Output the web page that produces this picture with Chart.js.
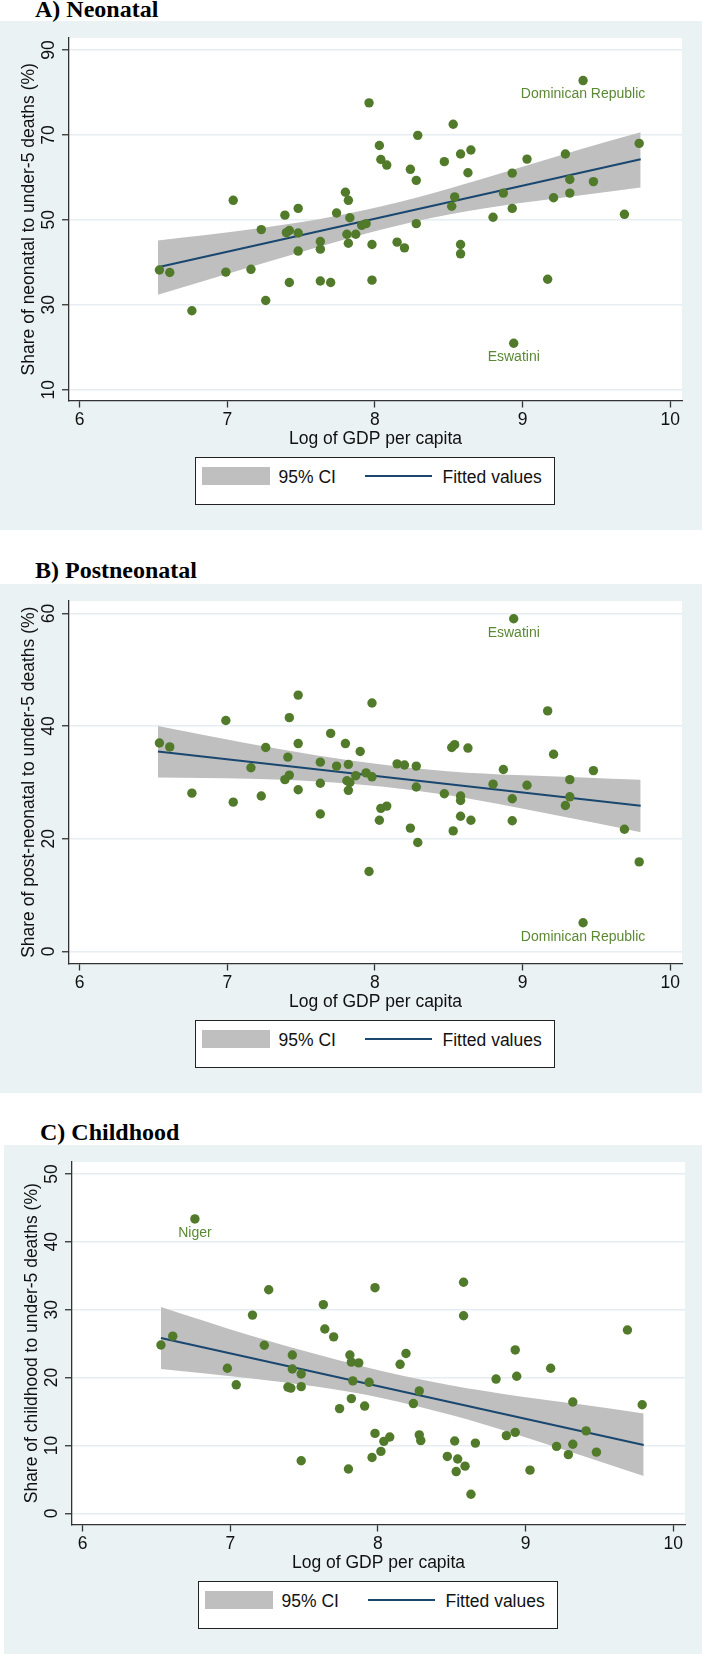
<!DOCTYPE html>
<html>
<head>
<meta charset="utf-8">
<script src="https://cdn.jsdelivr.net/npm/chart.js@4.4.1/dist/chart.umd.min.js"></script>
<style>
  html, body { margin: 0; padding: 0; background: #fff; }
  body { position: relative; width: 702px; height: 1654px; overflow: hidden; font-family: 'Liberation Sans', Arial, sans-serif; color: #111; }
  .bg { position: absolute; background: #eaf2f3; }
  .title { position: absolute; font-family: 'Liberation Serif', 'Times New Roman', serif; font-weight: bold; font-size: 24px; line-height: 24px; white-space: pre; color: #000; }
  canvas { position: absolute; }
  .legend { position: absolute; width: 358px; height: 46px; border: 1.5px solid #222; background: #fff; }
  .legend .swatch { position: absolute; left: 5.5px; top: 9px; width: 68px; height: 18px; background: #bfbfbf; }
  .legend .line { position: absolute; left: 168.5px; top: 17px; width: 67px; height: 2px; background: #1a476f; }
  .legend span { position: absolute; top: 10px; font-size: 17.5px; line-height: 18px; white-space: pre; }
</style>
</head>
<body>
<script>
// shared x axis: log of GDP per capita
const xTicks = [6, 7, 8, 9, 10];

// A) Neonatal
const neoX = [9.41, 7.96, 8.53, 8.29, 8.03, 9.79, 8.65, 8.58, 9.29, 8.04, 8.08, 9.03, 8.47, 8.24, 8.63, 8.93,
  8.28, 9.32, 9.48, 7.04, 7.80, 7.82, 8.54, 8.87, 9.32, 9.21, 7.48, 8.52, 8.93, 7.39, 7.74, 7.83, 8.80, 9.69,
  7.94, 7.91, 8.28, 7.23, 7.42, 7.40, 7.48, 7.81, 7.87, 7.63, 7.63, 7.82, 7.98, 8.15, 8.20, 7.48, 8.58, 8.58,
  6.54, 6.61, 6.99, 7.16, 7.42, 7.63, 7.70, 7.98, 9.17, 7.26, 6.76, 8.94];
const neoY = [82.8, 77.55, 72.5, 69.9, 67.5, 68.0, 66.45, 65.5, 65.5, 64.2, 62.9, 64.3, 63.7, 61.9, 61.1, 61.0,
  59.3, 59.5, 59.0, 54.6, 56.5, 54.6, 55.4, 56.3, 56.3, 55.2, 52.7, 53.2, 52.7, 51.1, 51.6, 50.5, 50.6, 51.3,
  49.1, 48.7, 49.1, 47.7, 47.5, 47.0, 46.9, 46.6, 46.6, 44.9, 43.1, 44.5, 44.2, 44.75, 43.4, 42.65, 44.2, 42.0,
  38.2, 37.6, 37.7, 38.35, 35.25, 35.6, 35.25, 35.8, 36.0, 31.0, 28.6, 20.95];
const neoBandX = [6.53, 7.15, 7.61, 8.06, 8.51, 8.96, 9.41, 9.8];
const neoBandHi = [45.13, 47.72, 50.07, 53.29, 57.44, 62.07, 66.78, 70.62];
const neoBandLo = [32.35, 38.85, 43.56, 47.87, 51.33, 53.84, 55.87, 57.6];
const neoFitX = [6.53, 9.8];
const neoFitY = [38.85, 64.27];
const neoYTicks = [10, 30, 50, 70, 90];
const neoNames = ['Dominican Republic', 'Eswatini'];
const neoNameIdx = [0, 63];

// B) Postneonatal
const postX = [8.94, 7.48, 7.98, 7.42, 6.99, 9.17, 7.70, 6.54, 6.61, 7.48, 7.80, 7.26, 8.52, 8.54, 8.63, 9.21,
  7.90, 7.41, 7.63, 9.48, 8.87, 7.16, 7.74, 7.82, 8.15, 8.20, 8.28, 7.94, 7.87, 7.98, 7.42, 7.39, 7.81, 7.83,
  9.32, 7.63, 8.80, 9.03, 8.28, 7.48, 7.82, 6.76, 8.47, 7.23, 8.58, 8.58, 8.93, 9.32, 9.29, 7.04, 8.08, 8.04,
  7.63, 8.58, 8.03, 8.65, 8.93, 8.24, 8.53, 9.69, 8.29, 7.96, 9.79, 9.41];
const postY = [59.05, 45.5, 44.1, 41.5, 41.0, 42.7, 38.7, 37.0, 36.3, 36.9, 36.9, 36.2, 36.2, 36.7, 36.1, 35.0,
  35.5, 34.5, 33.6, 32.1, 32.3, 32.6, 32.9, 33.2, 33.3, 33.1, 32.9, 31.7, 31.2, 31.0, 31.3, 30.5, 30.3, 30.0,
  30.5, 29.85, 29.7, 29.5, 29.2, 28.7, 28.6, 28.1, 28.0, 27.6, 27.6, 26.8, 27.1, 27.45, 25.9, 26.5, 25.8, 25.4,
  24.4, 24.0, 23.3, 23.3, 23.2, 21.9, 21.4, 21.7, 19.35, 14.2, 15.9, 5.1];
const postBandX = [6.53, 7.15, 7.61, 8.06, 8.51, 8.96, 9.41, 9.8];
const postBandHi = [40.01, 36.87, 34.8, 33.14, 31.95, 31.3, 30.89, 30.47];
const postBandLo = [30.89, 30.65, 30.18, 29.23, 27.69, 25.56, 23.25, 21.18];
const postFitX = [6.53, 9.8];
const postFitY = [35.51, 25.86];
const postYTicks = [0, 20, 40, 60];
const postNames = ['Eswatini', 'Dominican Republic'];
const postNameIdx = [0, 63];

// C) Childhood
const childX = [6.76, 8.58, 7.98, 7.26, 7.63, 7.15, 8.58, 9.69, 7.64, 7.70, 6.61, 6.53, 7.23, 8.93, 7.42, 7.81,
  8.19, 7.82, 7.87, 8.15, 9.17, 6.98, 7.42, 7.48, 8.94, 8.80, 7.83, 7.94, 7.04, 7.39, 7.41, 7.48, 8.28, 7.82,
  9.32, 9.79, 8.24, 7.91, 7.74, 9.41, 8.93, 7.98, 8.08, 8.04, 8.28, 8.29, 8.87, 8.52, 8.66, 9.32, 9.21, 8.02,
  9.48, 9.29, 8.47, 7.96, 8.54, 7.48, 8.59, 7.80, 8.53, 9.03, 8.63];
const childY = [43.37, 34.04, 33.24, 32.93, 30.75, 29.2, 29.1, 27.0, 27.15, 26.0, 26.1, 24.8, 24.76, 24.07, 23.33,
  23.33, 23.54, 22.27, 22.16, 21.95, 21.37, 21.37, 21.26, 20.52, 20.2, 19.78, 19.51, 19.3, 18.93, 18.6, 18.45,
  18.66, 18.03, 16.9, 16.4, 16.0, 16.17, 15.8, 15.43, 12.14, 11.93, 11.77, 11.24, 10.6, 11.56, 10.71, 11.45,
  10.66, 10.34, 10.18, 9.86, 9.12, 9.01, 8.64, 8.38, 8.22, 8.0, 7.74, 6.95, 6.52, 6.15, 6.36, 2.81];
const childBandX = [6.53, 7.13, 7.59, 8.04, 8.49, 8.94, 9.39, 9.8];
const childBandHi = [30.39, 26.23, 23.38, 20.88, 18.87, 17.3, 15.98, 14.71];
const childBandLo = [21.27, 19.9, 18.63, 16.91, 14.51, 11.62, 8.43, 5.49];
const childFitX = [6.53, 9.8];
const childFitY = [25.83, 10.05];
const childYTicks = [0, 10, 20, 30, 40, 50];
const childNames = ['Niger'];
const childNameIdx = [0];

const GREEN = '#517a2a';
const LABEL_GREEN = '#5a8833';
const NAVY = '#1a476f';
const BAND = '#bfbfbf';
const AXIS = '#333';
const GRID = '#e6eef1';
const FONT = "'Liberation Sans', Arial, sans-serif";

const pts = (xs, ys) => xs.map((v, i) => ({ x: v, y: ys[i] }));

const panels = [
  { title: 'A) Neonatal', titleLeft: 35, titleTop: -3.4, top: 21, dx: 0, bgLeft: 0,
    yMin: 7.46, yMax: 92.82, yTitle: 'Share of neonatal to under-5 deaths (%)',
    x: neoX, y: neoY, bx: neoBandX, hi: neoBandHi, lo: neoBandLo, fx: neoFitX, fy: neoFitY,
    yTicks: neoYTicks, names: neoNames, nameIdx: neoNameIdx },
  { title: 'B) Postneonatal', titleLeft: 35, titleTop: 558.1, top: 584, dx: 0, bgLeft: 0,
    yMin: -2.13, yMax: 62.2, yTitle: 'Share of post-neonatal to under-5 deaths (%)',
    x: postX, y: postY, bx: postBandX, hi: postBandHi, lo: postBandLo, fx: postFitX, fy: postFitY,
    yTicks: postYTicks, names: postNames, nameIdx: postNameIdx },
  { title: 'C) Childhood', titleLeft: 40, titleTop: 1120.3, top: 1145, dx: 3, bgLeft: 3.5,
    yMin: -1.65, yMax: 51.76, yTitle: 'Share of childhood to under-5 deaths (%)',
    x: childX, y: childY, bx: childBandX, hi: childBandHi, lo: childBandLo, fx: childFitX, fy: childFitY,
    yTicks: childYTicks, names: childNames, nameIdx: childNameIdx }
];

// white plot region, rotated y labels, outlier names
const decor = {
  id: 'decor',
  beforeDraw(chart) {
    const { ctx, chartArea: a } = chart;
    ctx.save();
    ctx.fillStyle = '#fff';
    ctx.fillRect(a.left, a.top, a.right - a.left, a.bottom - a.top);
    ctx.restore();
  },
  afterDraw(chart, args, opts) {
    const { ctx, chartArea: a } = chart;
    const ys = chart.scales.y, xs = chart.scales.x;
    ctx.save();
    ctx.fillStyle = '#111';
    ctx.font = '17.5px ' + FONT;
    ctx.textAlign = 'center';
    ctx.textBaseline = 'alphabetic';
    ys.ticks.forEach(t => {
      ctx.save();
      ctx.translate(a.left - 15.5, ys.getPixelForValue(t.value));
      ctx.rotate(-Math.PI / 2);
      ctx.fillText(String(t.value), 0, 0);
      ctx.restore();
    });
    ctx.save();
    ctx.translate(a.left - 35, (a.top + a.bottom) / 2);
    ctx.rotate(-Math.PI / 2);
    ctx.fillText(opts.yTitle, 0, 0);
    ctx.restore();

    ctx.fillStyle = LABEL_GREEN;
    ctx.font = '14px ' + FONT;
    ctx.textBaseline = 'middle';
    const p = opts.panel;
    p.names.forEach((n, k) => {
      const i = p.nameIdx[k];
      ctx.fillText(n, xs.getPixelForValue(p.x[i]), ys.getPixelForValue(p.y[i]) + 14);
    });
    ctx.restore();
  }
};

function addDiv(cls, style, html) {
  const el = document.createElement('div');
  el.className = cls;
  Object.assign(el.style, style);
  if (html) el.innerHTML = html;
  document.body.appendChild(el);
  return el;
}

panels.forEach(p => {
  addDiv('bg', { left: p.bgLeft + 'px', top: p.top + 'px', width: (702 - p.bgLeft) + 'px', height: '509px' });
  addDiv('title', { left: p.titleLeft + 'px', top: p.titleTop + 'px' }).textContent = p.title;

  const cv = document.createElement('canvas');
  cv.width = 700;
  cv.height = 432;
  cv.style.left = p.dx + 'px';
  cv.style.top = p.top + 'px';
  document.body.appendChild(cv);

  addDiv('legend', { left: (195 + p.dx) + 'px', top: (p.top + 436) + 'px' },
    '<div class="swatch"></div><span style="left:82.5px">95% CI</span>' +
    '<div class="line"></div><span style="left:246.5px">Fitted values</span>');

  new Chart(cv.getContext('2d'), {
    type: 'scatter',
    data: {
      datasets: [
        { type: 'scatter', data: pts(p.x, p.y), backgroundColor: GREEN, borderWidth: 0,
          pointRadius: 4.7, order: 0 },
        { type: 'line', data: pts(p.fx, p.fy), borderColor: NAVY, borderWidth: 2,
          pointRadius: 0, fill: false, order: 1 },
        { type: 'line', data: pts(p.bx, p.hi), borderColor: 'transparent', borderWidth: 0,
          pointRadius: 0, backgroundColor: BAND, fill: '+1', cubicInterpolationMode: 'monotone', order: 2 },
        { type: 'line', data: pts(p.bx, p.lo), borderColor: 'transparent', borderWidth: 0,
          pointRadius: 0, fill: false, cubicInterpolationMode: 'monotone', order: 3 }
      ]
    },
    options: {
      responsive: false,
      devicePixelRatio: 1,
      animation: false,
      events: [],
      layout: { padding: { top: 17, right: 18, left: 0, bottom: 0 } },
      plugins: {
        legend: { display: false },
        tooltip: { enabled: false },
        decor: { yTitle: p.yTitle, panel: p }
      },
      scales: {
        x: {
          type: 'linear',
          min: 5.9275,
          max: 10.08,
          afterBuildTicks: s => { s.ticks = xTicks.map(v => ({ value: v })); },
          afterFit: s => { s.height = 52.5; },
          grid: { drawOnChartArea: false, drawTicks: true, tickLength: 7, tickColor: AXIS, tickWidth: 1.3 },
          border: { display: true, color: AXIS, width: 1.3 },
          ticks: { autoSkip: false, maxRotation: 0, padding: 2, color: '#111', font: { family: FONT, size: 17.5 } },
          title: { display: true, text: 'Log of GDP per capita', color: '#111',
                   font: { family: FONT, size: 17.5 }, padding: { top: 0, bottom: 3 } }
        },
        y: {
          type: 'linear',
          min: p.yMin,
          max: p.yMax,
          afterBuildTicks: s => { s.ticks = p.yTicks.map(v => ({ value: v })); },
          afterFit: s => { s.width = 69; },
          grid: { color: GRID, lineWidth: 1.5, drawTicks: true, tickLength: 7, tickColor: AXIS, tickWidth: 1.3 },
          border: { display: true, color: AXIS, width: 1.3 },
          ticks: { display: false }
        }
      }
    },
    plugins: [decor]
  });
});
</script>
</body>
</html>
